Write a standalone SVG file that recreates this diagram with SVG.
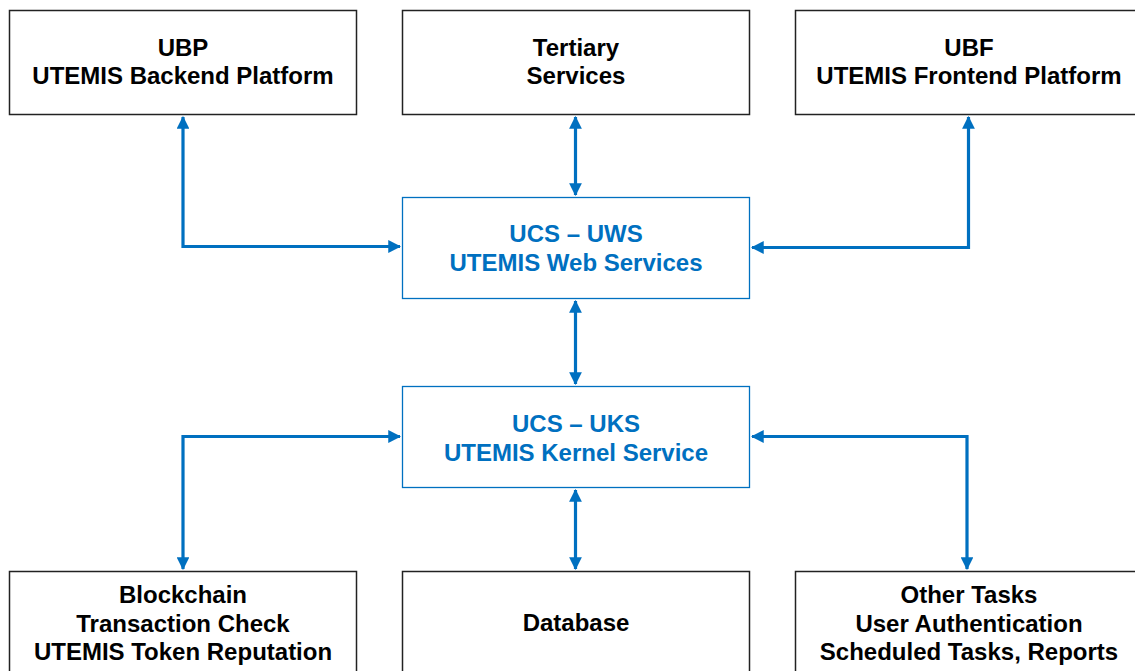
<svg xmlns="http://www.w3.org/2000/svg" width="1135" height="671" viewBox="0 0 1135 671">
<style>
.box{fill:#fff;stroke:#222;stroke-width:1.5}
.bbox{fill:#fff;stroke:#0070C0;stroke-width:1.3}
.t{font-family:"Liberation Sans",Arial,sans-serif;font-weight:bold;font-size:24px;text-anchor:middle;fill:#000}
.bt{fill:#0070C0}
.c{fill:none;stroke:#0070C0;stroke-width:3.2}
</style>
<defs>
<marker id="ah" viewBox="0 0 12 12" refX="11" refY="6" markerWidth="4" markerHeight="4" markerUnits="strokeWidth" orient="auto-start-reverse">
<path d="M0,0 L12,6 L0,12 Z" fill="#0070C0"/>
</marker>
</defs>
<rect width="1135" height="671" fill="#fff"/>
<g id="ubp"><rect class="box" x="9.5" y="10.5" width="347" height="104"/>
<text class="t" x="183" y="56">UBP</text><text class="t" x="183" y="84">UTEMIS Backend Platform</text></g>
<g id="tertiary"><rect class="box" x="402.5" y="10.5" width="347" height="104"/>
<text class="t" x="576" y="56">Tertiary</text><text class="t" x="576" y="84">Services</text></g>
<g id="ubf"><rect class="box" x="795.5" y="10.5" width="347" height="104"/>
<text class="t" x="969" y="56">UBF</text><text class="t" x="969" y="84">UTEMIS Frontend Platform</text></g>
<g id="uws"><rect class="bbox" x="402.5" y="197.5" width="347" height="101"/>
<text class="t bt" x="576" y="242">UCS – UWS</text><text class="t bt" x="576" y="271">UTEMIS Web Services</text></g>
<g id="uks"><rect class="bbox" x="402.5" y="386.5" width="347" height="101"/>
<text class="t bt" x="576" y="432">UCS – UKS</text><text class="t bt" x="576" y="461">UTEMIS Kernel Service</text></g>
<g id="blockchain"><rect class="box" x="9.5" y="571.5" width="347" height="104"/>
<text class="t" x="183" y="603">Blockchain</text><text class="t" x="183" y="632">Transaction Check</text><text class="t" x="183" y="660">UTEMIS Token Reputation</text></g>
<g id="database"><rect class="box" x="402.5" y="571.5" width="347" height="104"/>
<text class="t" x="576" y="631">Database</text></g>
<g id="other"><rect class="box" x="795.5" y="571.5" width="347" height="104"/>
<text class="t" x="969" y="603">Other Tasks</text><text class="t" x="969" y="632">User Authentication</text><text class="t" x="969" y="660">Scheduled Tasks, Reports</text></g>
<g id="connectors">
<path class="c" d="M183,117 V246.5 H400" marker-start="url(#ah)" marker-end="url(#ah)"/>
<path class="c" d="M968.5,117 V247.5 H752" marker-start="url(#ah)" marker-end="url(#ah)"/>
<path class="c" d="M575.5,117 V195" marker-start="url(#ah)" marker-end="url(#ah)"/>
<path class="c" d="M575.5,301 V384" marker-start="url(#ah)" marker-end="url(#ah)"/>
<path class="c" d="M400,436.5 H183 V569" marker-start="url(#ah)" marker-end="url(#ah)"/>
<path class="c" d="M752,436.5 H967 V569" marker-start="url(#ah)" marker-end="url(#ah)"/>
<path class="c" d="M575.5,490 V569" marker-start="url(#ah)" marker-end="url(#ah)"/>
</g>
</svg>
